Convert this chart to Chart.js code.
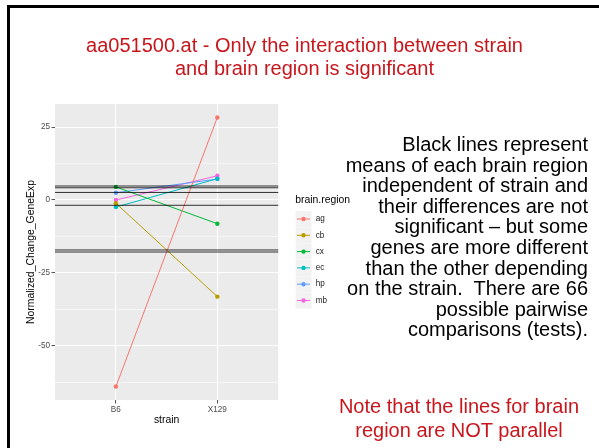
<!DOCTYPE html>
<html>
<head>
<meta charset="utf-8">
<script src="https://cdn.jsdelivr.net/npm/chart.js"></script>
<style>
  body { margin: 0; background: #fff; font-family: "Liberation Sans", Arial, Helvetica, sans-serif; }
  #slide { position: relative; width: 599px; height: 448px; overflow: hidden; }
  #frame { position: absolute; left: 7px; top: 5px; width: 700px; height: 600px; border-left: 3px solid #000; border-top: 3px solid #000; }
  #chart { position: absolute; left: 0; top: 0; }
  .title { position: absolute; left: 10px; width: 589px; top: 34px; text-align: center; color: #c8161d; font-size: 20px; line-height: 23px; }
  .side { position: absolute; left: 320px; width: 268px; top: 134px; text-align: right; color: #000; font-size: 20px; line-height: 20.6px; }
  .note { position: absolute; left: 320px; width: 278px; top: 394px; text-align: center; color: #c8161d; font-size: 20px; line-height: 24px; }
</style>
</head>
<body>
<div id="slide">
  <div id="frame"></div>
  <canvas id="chart" width="599" height="448"></canvas>
  <div class="title">aa051500.at - Only the interaction between strain<br>and brain region is significant</div>
  <div class="side">Black lines represent<br>means of each brain region<br>independent of strain and<br>their differences are not<br>significant – but some<br>genes are more different<br>than the other depending<br>on the strain.&nbsp; There are 66<br>possible pairwise<br>comparisons (tests).</div>
  <div class="note">Note that the lines for brain<br>region are NOT parallel</div>
</div>
<script>
// data
const strains = ["B6", "X129"];
const regions = ["ag", "cb", "cx", "ec", "hp", "mb"];
const ag = [-63.9, 28.3];
const cb = [-1.1, -33.1];
const cx = [4.5, -8.1];
const ec = [-2.4, 7.3];
const hp = [2.5, 7.2];
const mb = [0.0, 8.3];
const regionValues = [ag, cb, cx, ec, hp, mb];
// black lines: mean of each brain region
const regionMeans = [-17.8, -17.1, -1.8, 2.6, 4.8, 4.2];
const yMajorTicks = [-50, -25, 0, 25];
const yMinorTicks = [-62.5, -37.5, -12.5, 12.5];

const regionColors = ["#F8766D", "#B79F00", "#00BA38", "#00BFC4", "#619CFF", "#F564E3"];

Chart.defaults.font.family = '"Liberation Sans", Arial, Helvetica, sans-serif';

// grey ggplot panel
const panelBg = {
  id: "panelBg",
  beforeDraw(chart) {
    const { ctx, chartArea: a } = chart;
    ctx.save();
    ctx.fillStyle = "#EBEBEB";
    ctx.fillRect(a.left, a.top, a.right - a.left, a.bottom - a.top);
    ctx.restore();
  },
};

// horizontal mean lines across the whole panel
const meanLines = {
  id: "meanLines",
  afterDatasetsDraw(chart) {
    const { ctx, chartArea: a, scales } = chart;
    ctx.save();
    ctx.strokeStyle = "rgba(0, 0, 0, 0.8)";
    ctx.lineWidth = 1;
    regionMeans.forEach((m) => {
      const y = scales.y.getPixelForValue(m);
      ctx.beginPath();
      ctx.moveTo(a.left, y);
      ctx.lineTo(a.right, y);
      ctx.stroke();
    });
    ctx.restore();
  },
};

// legend box is narrower than its title; widen its clip area so the title shows whole
const legendRoom = {
  id: "legendRoom",
  afterLayout(chart) {
    chart.legend.right += 40;
  },
};

// line + dot inside each grey legend key
const legendKeys = {
  id: "legendKeys",
  afterDraw(chart) {
    const lg = chart.legend;
    const ctx = chart.ctx;
    const bw = lg.options.labels.boxWidth;
    const bh = lg.options.labels.boxHeight;
    ctx.save();
    lg.legendItems.forEach((item, i) => {
      const hb = lg.legendHitBoxes[i];
      const color = regionColors[item.datasetIndex];
      const cy = hb.top + bh / 2;
      ctx.strokeStyle = color;
      ctx.lineWidth = 1;
      ctx.beginPath();
      ctx.moveTo(hb.left + 1.5, cy);
      ctx.lineTo(hb.left + bw - 1.5, cy);
      ctx.stroke();
      ctx.fillStyle = color;
      ctx.beginPath();
      ctx.arc(hb.left + bw / 2, cy, 2.2, 0, Math.PI * 2);
      ctx.fill();
    });
    ctx.restore();
  },
};

const lineChart = new Chart(document.getElementById("chart"), {
  type: "line",
  data: {
    datasets: regions.map((r, k) => ({
      label: r,
      data: strains.map((s, i) => ({ x: i + 1, y: regionValues[k][i] })),
      borderColor: regionColors[k],
      backgroundColor: regionColors[k],
      borderWidth: 1,
      pointRadius: 2.2,
      pointBorderWidth: 0,
      pointBackgroundColor: regionColors[k],
      fill: false,
      tension: 0,
    })),
  },
  options: {
    responsive: false,
    animation: false,
    devicePixelRatio: 1,
    layout: { padding: { left: 20, top: 104, right: 262, bottom: 21.8 } },
    scales: {
      x: {
        type: "linear",
        min: 0.4,
        max: 2.6,
        afterBuildTicks: (s) => {
          s.ticks = strains.map((_, i) => ({ value: i + 1 }));
        },
        afterFit: (s) => {
          s.height = 26.2;
        },
        ticks: {
          callback: (v) => strains[v - 1],
          color: "#4D4D4D",
          font: { size: 8.2 },
          padding: 1,
          autoSkip: false,
          maxRotation: 0,
        },
        grid: {
          color: "#FFFFFF",
          lineWidth: 1.1,
          tickColor: "#4D4D4D",
          tickLength: 3.5,
          tickWidth: 1,
        },
        border: { display: false },
        title: {
          display: true,
          text: "strain",
          color: "#000",
          font: { size: 10.4 },
          padding: { top: 0, bottom: 0 },
        },
      },
      y: {
        min: -68.5,
        max: 32.9,
        afterBuildTicks: (s) => {
          s.ticks = yMajorTicks.concat(yMinorTicks).sort((a, b) => a - b).map((v) => ({ value: v }));
        },
        afterFit: (s) => {
          s.width = 35;
        },
        ticks: {
          callback: (v) => (yMajorTicks.includes(v) ? String(v) : ""),
          color: "#4D4D4D",
          font: { size: 8.2 },
          padding: 1.5,
          autoSkip: false,
        },
        grid: {
          color: "#FFFFFF",
          lineWidth: (c) => (c.tick && yMajorTicks.includes(c.tick.value) ? 1.1 : 0.55),
          tickColor: (c) => (c.tick && yMajorTicks.includes(c.tick.value) ? "#4D4D4D" : "rgba(0,0,0,0)"),
          tickLength: 3.5,
          tickWidth: 1,
        },
        border: { display: false },
        title: {
          display: true,
          text: "Normalized_Change_GeneExp",
          color: "#000",
          font: { size: 10.4 },
          padding: { top: 5, bottom: 0 },
        },
      },
      // spacer between panel and legend
      y2: {
        position: "right",
        display: true,
        grid: { display: false },
        ticks: { display: false },
        border: { display: false },
        afterFit: (s) => {
          s.width = 17;
        },
      },
    },
    plugins: {
      legend: {
        position: "right",
        fullSize: false,
        align: "center",
        title: {
          display: true,
          text: "brain.region",
          position: "start",
          color: "#000",
          font: { size: 10.4 },
          padding: { top: 0, bottom: 3 },
        },
        labels: {
          boxWidth: 16,
          boxHeight: 16,
          padding: 0.3,
          color: "#1a1a1a",
          font: { size: 8.2 },
          generateLabels: (chart) =>
            Chart.defaults.plugins.legend.labels.generateLabels(chart).map((l) => ({
              ...l,
              fillStyle: "#F2F2F2",
              strokeStyle: "rgba(0,0,0,0)",
              lineWidth: 0,
            })),
        },
      },
      tooltip: { enabled: false },
    },
  },
  plugins: [panelBg, meanLines, legendRoom, legendKeys],
});
</script>
</body>
</html>
